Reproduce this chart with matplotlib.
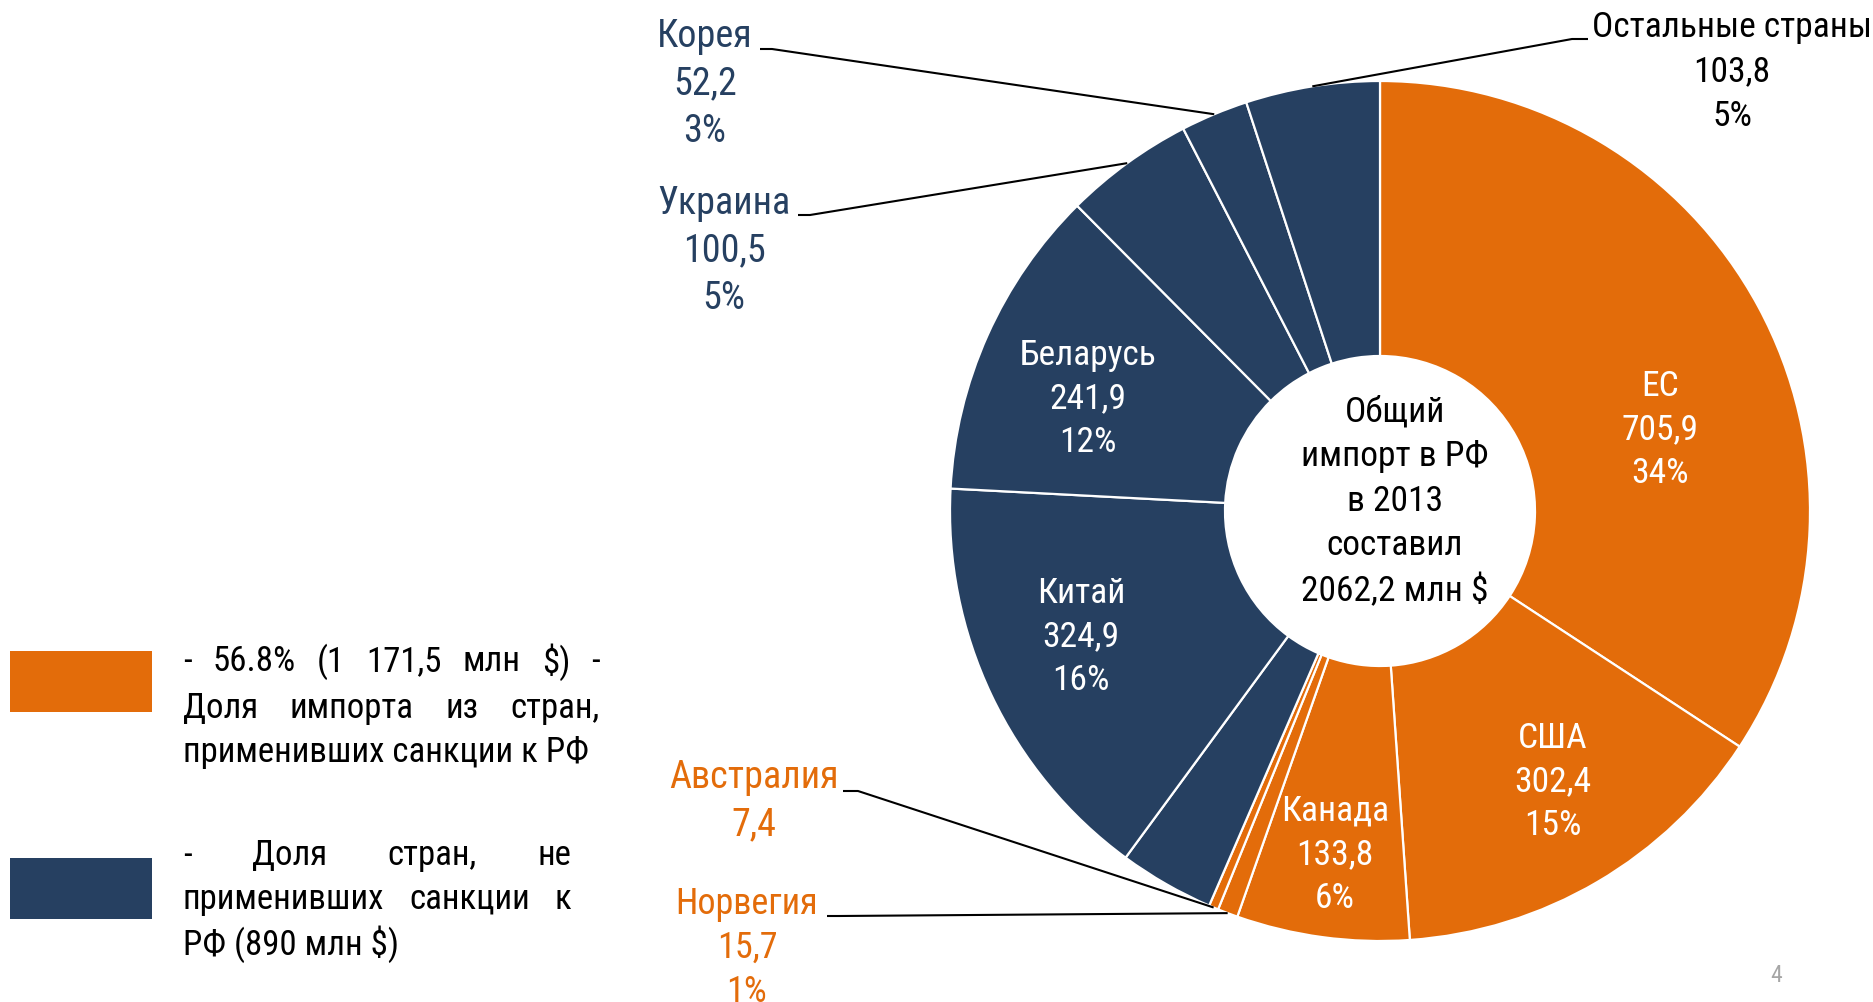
import matplotlib
matplotlib.use('Agg')
import matplotlib.pyplot as plt
from matplotlib.patches import Rectangle
from matplotlib import font_manager as fm
from matplotlib.font_manager import FontProperties
import numpy as np

# ---------------- data ----------------
countries = ['ЕС', 'США', 'Канада', 'Норвегия', 'Австралия', '', 'Китай',
             'Беларусь', 'Украина', 'Корея', 'Остальные страны']
values = [705.9, 302.4, 133.8, 15.7, 7.4, 73.7, 324.9, 241.9, 100.5, 52.2, 103.8]
percents = ['34%', '15%', '6%', '1%', '', '', '16%', '12%', '5%', '3%', '5%']
sanctions = [True, True, True, True, True, False, False, False, False, False, False]
center_text = 'Общий\nимпорт в РФ\nв 2013\nсоставил\n2062,2 млн $'
legend_par1 = ['- 56.8% (1 171,5 млн $) -', 'Доля импорта из стран,',
               'применивших санкции к РФ']
legend_par2 = ['- Доля стран, не', 'применивших санкции к', 'РФ (890 млн $)']
page_number = '4'

# ---------------- style / layout ----------------
W, H = 1873, 1002
ORANGE = '#E36C0A'
NAVY = '#264061'


def pick_font():
    prefs = ['Liberation Sans Narrow', 'Arial Narrow', 'Roboto Condensed',
             'DejaVu Sans Condensed', 'Open Sans Condensed']
    entries = fm.fontManager.ttflist
    for p in prefs:
        for f in entries:
            if f.name == p and f.weight in (400, 'normal', 'regular') and f.style == 'normal':
                return f.fname, True
    for fam in ['Liberation Sans', 'Roboto', 'DejaVu Sans', 'Open Sans', 'Noto Sans']:
        for f in entries:
            st = f.stretch
            cond = (isinstance(st, str) and 'condensed' in st) or \
                   (isinstance(st, (int, float)) and st < 500)
            if f.name == fam and cond and f.style == 'normal' and \
                    f.weight in (400, 'normal', 'regular'):
                return f.fname, True
    for f in entries:
        if f.name == 'Liberation Sans' and f.style == 'normal' and \
                f.weight in (400, 'normal', 'regular'):
            return f.fname, False
    return fm.findfont('DejaVu Sans'), False


FONT_PATH, NARROW = pick_font()


def FP(size):
    return FontProperties(fname=FONT_PATH, size=size)


CX, CY, R = 1380, 1002 - 511, 430
RIN = 155

fig = plt.figure(figsize=(W / 100, H / 100), dpi=100)
ax = fig.add_axes([0, 0, 1, 1])
renderer = fig.canvas.get_renderer()

# scale font size so text widths match the reference
probe = fig.text(0, 0, 'Остальные страны', fontproperties=FP(27))
pw = probe.get_window_extent(renderer).width
probe.remove()
SCALE = min(1.05, 280.0 / pw)


def linespacing_for(fs, pitch):
    """Find the linespacing value giving the wanted line pitch (px)."""
    def height(txt, ls):
        t = fig.text(0, 0, txt, fontproperties=FP(fs), linespacing=ls)
        h = t.get_window_extent(renderer).height
        t.remove()
        return h
    p1 = height('Ap\nAp', 1.0) - height('Ap', 1.0)
    p2 = height('Ap\nAp', 2.0) - height('Ap', 2.0)
    a = p2 - p1
    d = p1 - a
    return max(0.5, (pitch - d) / a)


# inside labels: index -> (x, y_img)
inside_pos = {0: (1660, 430), 1: (1553, 782), 2: (1335, 855),
              6: (1081, 637), 7: (1088, 399)}
# outside labels: index -> (text x, text y_img, elbow start, elbow end, color, size, pitch)
outside = {
    9: (705, 84, (760, 49), (772, 49), NAVY, 29, 47.8),
    8: (724, 251, (798, 215), (810, 215), NAVY, 29, 47.8),
    10: (1732, 72, (1588, 39), (1572, 39), 'black', 27, 44.8),
    4: (754, 801, (843, 791), (858, 791), ORANGE, 29, 47.8),
    3: (747, 948, (827, 916), (839, 916), ORANGE, 27.5, 44.2),
}

colors = [ORANGE if s else NAVY for s in sanctions]
wedges, _ = ax.pie(values, colors=colors, startangle=90, counterclock=False,
                   radius=R, center=(CX, CY), frame=True,
                   wedgeprops=dict(width=R - RIN, edgecolor='white', linewidth=1.6))
ax.set_xlim(0, W)
ax.set_ylim(0, H)
ax.set_aspect('equal')
ax.axis('off')


def fmt(v):
    return f'{v:.1f}'.replace('.', ',')


def label_text(i):
    parts = [countries[i], fmt(values[i])]
    if percents[i]:
        parts.append(percents[i])
    return '\n'.join(parts)


fs_in = 27 * SCALE
ls_in = linespacing_for(fs_in, 43.6)
for i, (x, yi) in inside_pos.items():
    ax.text(x, H - yi, label_text(i), ha='center', va='center', color='white',
            fontproperties=FP(fs_in), linespacing=ls_in, multialignment='center')

for i, (x, yi, p0, p1, col, fs0, pitch) in outside.items():
    fs = fs0 * SCALE
    ax.text(x, H - yi, label_text(i), ha='center', va='center', color=col,
            fontproperties=FP(fs), linespacing=linespacing_for(fs, pitch),
            multialignment='center')
    w = wedges[i]
    mid = np.deg2rad((w.theta1 + w.theta2) / 2)
    ex, ey = CX + R * np.cos(mid), CY + R * np.sin(mid)
    ax.plot([p0[0], p1[0], ex], [H - p0[1], H - p1[1], ey], color='black', lw=1.5,
            solid_capstyle='butt')

fs_c = 27 * SCALE
ax.text(1395, H - 502, center_text, ha='center', va='center', color='black',
        fontproperties=FP(fs_c), linespacing=linespacing_for(fs_c, 44.6),
        multialignment='center')

# legend boxes
ax.add_patch(Rectangle((10, H - 712), 142, 61, color=ORANGE, lw=0))
ax.add_patch(Rectangle((10, H - 919), 142, 61, color=NAVY, lw=0))


def justified(lines, x0, x1, ys, fs):
    for k, (line, yi) in enumerate(zip(lines, ys)):
        y = H - yi
        if k == len(lines) - 1:
            ax.text(x0, y, line, ha='left', va='center_baseline',
                    fontproperties=FP(fs), color='black')
            continue
        words = line.split()
        objs = [ax.text(0, y, wd, ha='left', va='center_baseline',
                        fontproperties=FP(fs), color='black') for wd in words]
        widths = [o.get_window_extent(renderer).width for o in objs]
        gap = (x1 - x0 - sum(widths)) / max(len(words) - 1, 1)
        x = x0
        for o, wdt in zip(objs, widths):
            o.set_x(x)
            x += wdt + gap


fs_l = 26 * SCALE * 1.02
justified(legend_par1, 183, 600, [658, 705, 749], fs_l)
justified(legend_par2, 183, 571, [852, 896, 940], fs_l)

ax.text(1776, H - 976, page_number, ha='center', va='center', color='#A6A6A6',
        fontproperties=FP(17))

fig.savefig('out.png', dpi=100)
